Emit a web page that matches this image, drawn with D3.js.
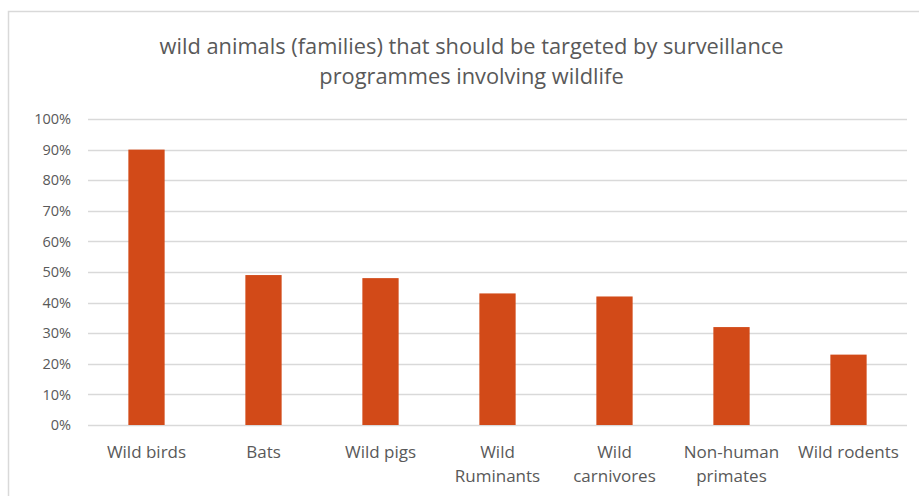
<!DOCTYPE html>
<html>
<head>
<meta charset="utf-8">
<script src="https://cdn.jsdelivr.net/npm/d3@7"></script>
<style>
  body { margin: 0; background: #fff; }
  svg { display: block; font-family: "Open Sans", "Noto Sans", sans-serif; }
</style>
</head>
<body>
<svg id="chart" width="919" height="496"></svg>
<script>
// data
const categories = [
    ["Wild birds"],
    ["Bats"],
    ["Wild pigs"],
    ["Wild", "Ruminants"],
    ["Wild", "carnivores"],
    ["Non-human", "primates"],
    ["Wild rodents"]
];
const values = [0.90, 0.49, 0.48, 0.43, 0.42, 0.32, 0.23];
const yTicks = [0, 0.1, 0.2, 0.3, 0.4, 0.5, 0.6, 0.7, 0.8, 0.9, 1.0];
const titleLines = [
    "wild animals (families) that should be targeted by surveillance",
    "programmes involving wildlife"
];

const svg = d3.select("#chart");
const textColor = "#595959";
const barColor = "#D24A18";
const gridColor = "#D9D9D9";

// chart border (runs off right and bottom edge like the screenshot)
svg.append("rect")
    .attr("x", 8.5).attr("y", 11.5)
    .attr("width", 930).attr("height", 500)
    .attr("fill", "none")
    .attr("stroke", gridColor)
    .attr("stroke-width", 1.5);

// title
svg.append("g").selectAll("text")
    .data(titleLines)
    .enter().append("text")
    .attr("x", 471.5)
    .attr("y", (d, i) => 54 + i * 30)
    .attr("text-anchor", "middle")
    .attr("fill", textColor)
    .attr("font-size", "21.8px")
    .text(d => d);

const plotLeft = 88, plotRight = 907, plotTop = 119, plotBottom = 425;

const x = d3.scaleBand()
    .domain(categories.map(d => d.join(" ")))
    .range([plotLeft, plotRight])
    .paddingInner(0.69)
    .paddingOuter(0.345);

const y = d3.scaleLinear()
    .domain([0, 1])
    .range([plotBottom, plotTop]);

// gridlines
svg.append("g").selectAll("line")
    .data(yTicks)
    .enter().append("line")
    .attr("x1", plotLeft).attr("x2", plotRight)
    .attr("y1", d => Math.round(y(d)) + 0.5)
    .attr("y2", d => Math.round(y(d)) + 0.5)
    .attr("stroke", gridColor)
    .attr("stroke-width", 1.3);

// y axis labels
const yAxis = d3.axisLeft(y)
    .tickValues(yTicks)
    .tickFormat(d3.format(".0%"))
    .tickSize(0)
    .tickPadding(0);

const yg = svg.append("g")
    .attr("transform", `translate(71,0)`)
    .call(yAxis);
yg.select(".domain").remove();
yg.selectAll("text")
    .attr("fill", textColor)
    .attr("font-size", "14.5px")
    .attr("font-family", "'Open Sans', sans-serif");

// bars
svg.append("g").selectAll("rect")
    .data(values)
    .enter().append("rect")
    .attr("x", (d, i) => x(categories[i].join(" ")))
    .attr("width", x.bandwidth())
    .attr("y", d => y(d))
    .attr("height", d => y(0) - y(d))
    .attr("fill", barColor);

// category labels
const lab = svg.append("g").selectAll("text")
    .data(categories)
    .enter().append("text")
    .attr("x", d => x(d.join(" ")) + x.bandwidth() / 2)
    .attr("y", 458)
    .attr("text-anchor", "middle")
    .attr("fill", textColor)
    .attr("font-size", "17px");

lab.selectAll("tspan")
    .data(d => d)
    .enter().append("tspan")
    .attr("x", function() { return d3.select(this.parentNode).attr("x"); })
    .attr("dy", (d, i) => i === 0 ? 0 : 24)
    .text(d => d);
</script>
</body>
</html>
